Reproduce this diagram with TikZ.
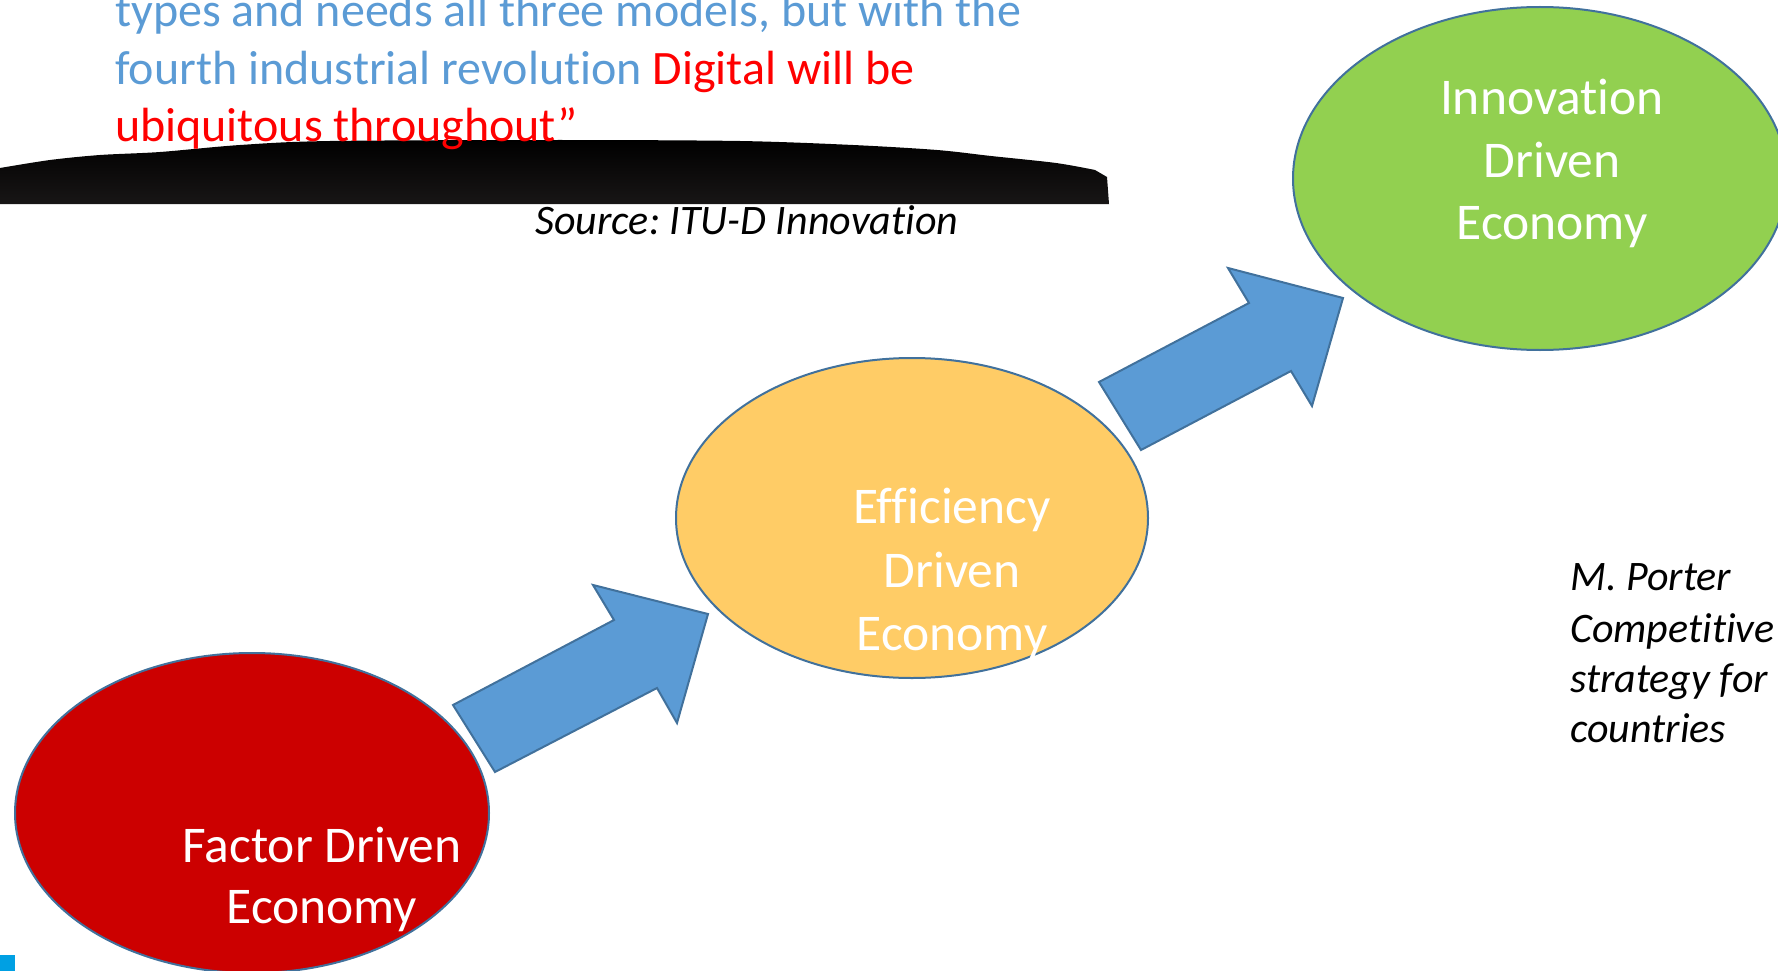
\documentclass[tikz,border=0pt]{standalone}
\usepackage{fontspec}
\setmainfont{Carlito}[Ligatures={NoCommon}]
\frenchspacing
\usetikzlibrary{shapes.geometric}
\newcommand\tisep{t\kern0pt i}
\definecolor{txtblue}{RGB}{91,155,213}
\definecolor{txtred}{RGB}{255,0,0}
\definecolor{edgeblue}{RGB}{65,113,156}
\definecolor{arrowblue}{RGB}{91,155,213}
\definecolor{factorred}{RGB}{204,0,0}
\definecolor{effyellow}{RGB}{255,204,102}
\definecolor{innogreen}{RGB}{146,208,80}
\definecolor{cornerblue}{RGB}{0,160,227}
\definecolor{blackbot}{RGB}{24,22,22}
\tikzset{
  econ/.style={ellipse, draw=edgeblue, line width=2pt, inner sep=0pt},
  inlbl/.style={inner sep=0pt, text=white, anchor=base, font=\fontsize{51.5}{62}\selectfont},
  quote/.style={inner sep=0pt, anchor=base west, text=txtblue, font=\fontsize{48}{57.5}\selectfont},
  note/.style={inner sep=0pt, anchor=base west, text=black, font=\fontsize{42}{50.5}\selectfont\itshape},
  blockarrow/.style={fill=arrowblue, draw=edgeblue, line width=2pt, line join=miter},
}
\begin{document}
\begin{tikzpicture}[x=1pt,y=-1pt]
\useasboundingbox (0,0) rectangle (1778,971);

% black torn band
\shade[top color=black, bottom color=blackbot]
  (0,204) -- plot[smooth] coordinates {(0,168) (50,160) (100,155) (160,152) (240,145) (330,141) (560,140) (740,141) (853,145) (937,150) (991,156) (1056,163) (1095,170)}
  -- (1107,177) -- (1109,204) -- cycle;

% quote text
\node[quote] (q1) at (115,27) {types and needs all three models, but with the};
\node[quote] (q2) at (115,85) {fourth industrial revolu\tisep on \textcolor{txtred}{Digital will be}};
\node[quote, text=txtred] (q3) at (115,142) {ubiquitous throughout”};

\node[note] (src) at (535,234) {Source: ITU-D Innova\tisep on};

% ellipses
\node[econ, fill=factorred, minimum width=474pt, minimum height=320pt] (factor) at (252,813) {};
\node[econ, fill=effyellow, minimum width=472pt, minimum height=320pt] (eff) at (912,518) {};
\node[econ, fill=innogreen, minimum width=494pt, minimum height=343pt] (inno) at (1540,178.5) {};

% block arrows
\coordinate (a1tt) at (453,705);
\coordinate (a1st) at (614,620);
\coordinate (a1bt) at (593,585);
\coordinate (a1tip) at (708,614);
\coordinate (a1bb) at (677,723);
\coordinate (a1sb) at (657,688);
\coordinate (a1tb) at (495,772);
\draw[blockarrow] (a1tt) -- (a1st) -- (a1bt) -- (a1tip) -- (a1bb) -- (a1sb) -- (a1tb) -- cycle;

\coordinate (a2tt) at (1099,382);
\coordinate (a2st) at (1249,303);
\coordinate (a2bt) at (1228,268);
\coordinate (a2tip) at (1343,298);
\coordinate (a2bb) at (1312,406);
\coordinate (a2sb) at (1291,371);
\coordinate (a2tb) at (1141,450);
\draw[blockarrow] (a2tt) -- (a2st) -- (a2bt) -- (a2tip) -- (a2bb) -- (a2sb) -- (a2tb) -- cycle;

% ellipse labels
\node[inlbl] (f1) at (322,862) {Factor Driven};
\node[inlbl] (f2) at (322,923) {Economy};

\node[inlbl] (e1) at (952,523) {Efficiency};
\node[inlbl] (e2) at (952,587) {Driven};
\node[inlbl] (e3) at (952,650) {Economy};

\node[inlbl] (i1) at (1552,115) {Innova\tisep on};
\node[inlbl] (i2) at (1552,177) {Driven};
\node[inlbl] (i3) at (1552,239) {Economy};

% right note
\node[note] (p1) at (1570,590) {M. Porter};
\node[note] (p2) at (1570,642) {Compe\tisep\tisep ve};
\node[note] (p3) at (1570,692) {strategy for};
\node[note] (p4) at (1570,742) {countries};

% corner mark
\fill[cornerblue] (0,955) rectangle (15,971);
\end{tikzpicture}
\end{document}
